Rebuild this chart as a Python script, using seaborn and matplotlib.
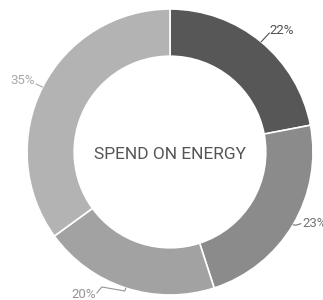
import matplotlib
matplotlib.use('Agg')
import matplotlib.pyplot as plt
import numpy as np
import seaborn as sns

# data
labels = ['22%', '23%', '20%', '35%']
shares = [22, 23, 20, 35]
slice_colors = ['#575757', '#8b8b8b', '#a2a2a2', '#b3b3b3']
label_colors = ['#505050', '#747474', '#959595', '#a8a8a8']
center_text = 'SPEND ON ENERGY'

# leader line paths, offsets from the wedge edge (data units)
leaders = [
    [(0, 0), (0.058, 0.062)],
    [(0, 0), (0.02, -0.003), (0.055, 0.008)],
    [(0, 0), (-0.007, -0.021), (-0.168, 0.007), (-0.203, -0.035)],
    [(0, 0), (-0.045, 0.022)],
]
text_shift = [(0.0, 0.015), (0.01, 0.0), (-0.006, -0.01), (-0.006, 0.025)]
text_ha = ['left', 'left', 'right', 'right']

sns.set_style('white')
plt.rcParams['font.family'] = ['Roboto', 'DejaVu Sans']

fig = plt.figure(figsize=(3.23, 3.0), dpi=100)
ax = fig.add_axes([0, 0, 1, 1])
wedges, _ = ax.pie(shares, colors=slice_colors, startangle=90, counterclock=False,
                   radius=1.0,
                   wedgeprops=dict(width=0.33, edgecolor='white', linewidth=1.2))
ax.set_aspect('auto')
ax.set_xlim(-1.189, 1.070)
ax.set_ylim(-1.035, 1.063)
ax.axis('off')

for w, lab, col, path, sh, ha in zip(wedges, labels, label_colors, leaders, text_shift, text_ha):
    mid = np.deg2rad((w.theta1 + w.theta2) / 2)
    ex, ey = np.cos(mid), np.sin(mid)
    xs = [ex + p[0] for p in path]
    ys = [ey + p[1] for p in path]
    ax.plot(xs, ys, color=col, lw=0.8, clip_on=False)
    ax.text(xs[-1] + sh[0], ys[-1] + sh[1], lab, color=col, fontsize=9.5,
            ha=ha, va='center')

ax.text(0, -0.02, center_text, ha='center', va='center', fontsize=12.5, color='#555555')

fig.savefig('out.png', dpi=100)
